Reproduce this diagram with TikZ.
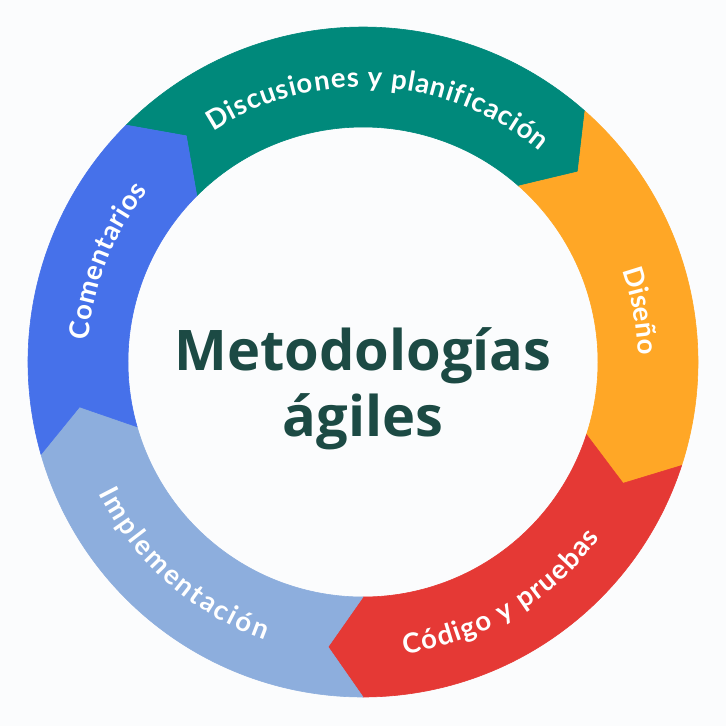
\documentclass[tikz,border=0pt]{standalone}
\usepackage{fontspec}
\setmainfont{Lato}
\newfontfamily\ctrfont{Open Sans}
\usetikzlibrary{decorations.text}
\definecolor{bg}{RGB}{251,252,253}
\definecolor{cgreen}{RGB}{0,137,123}
\definecolor{corange}{RGB}{255,167,38}
\definecolor{cred}{RGB}{229,57,53}
\definecolor{clblue}{RGB}{141,174,221}
\definecolor{cblue}{RGB}{70,113,234}
\definecolor{ctext}{RGB}{28,74,68}
\newcommand\lblsize{\bfseries\fontsize{27.5}{32}\selectfont}
\tikzset{
  ringlabel/.style={decorate, decoration={text along path,
    text align=fit to path, text color=white, text={|\lblsize|#1}}}
}
% segment: colour, start angle (larger), end angle (smaller)
\newcommand\ringseg[3]{%
  \fill[#1, draw=#1, line width=0.6pt, line join=round]
    (#2:335pt) arc[start angle=#2, end angle=#3, radius=335pt]
    -- ({#3-7}:287pt) -- (#3:235pt)
    arc[start angle=#3, end angle=#2, radius=235pt]
    -- ({#2-7}:287pt) -- cycle;}
% label along an arc: text, start angle, end angle, radius
\newcommand\arclabel[4]{%
  \path[ringlabel={#1}]
    (#2:#4) arc[start angle=#2, end angle=#3, radius=#4];}
\begin{document}
\begin{tikzpicture}
\fill[bg] (-363pt,-364pt) rectangle (363pt,362pt);
\useasboundingbox (-363pt,-364pt) rectangle (363pt,362pt);
\ringseg{cgreen}{135}{48.5}
\ringseg{corange}{48.5}{-18}
\ringseg{cred}{-18}{-90}
\ringseg{clblue}{270}{196}
\ringseg{cblue}{196}{135}
\arclabel{Discusiones y planificación}{123}{50}{275pt}
\arclabel{Diseño}{19.5}{1.5}{275pt}
\arclabel{Código y pruebas}{-82}{-36.5}{295pt}
\arclabel{Implementación}{206.5}{250.5}{295pt}
\arclabel{Comentarios}{175.5}{141.5}{275pt}
\node[font=\ctrfont\bfseries\fontsize{56}{66}\selectfont, text=ctext, anchor=base, inner sep=0pt] (title1) at (0pt,-8pt) {Metodologías};
\node[font=\ctrfont\bfseries\fontsize{56}{66}\selectfont, text=ctext, anchor=base, inner sep=0pt] (title2) at (0pt,-74pt) {ágiles};
\end{tikzpicture}
\end{document}
